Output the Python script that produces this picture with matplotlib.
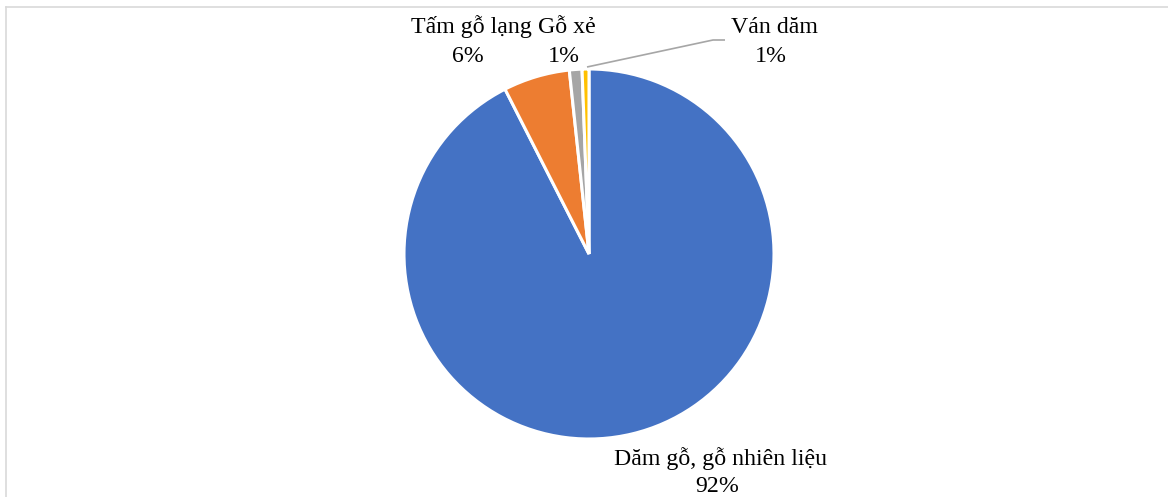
import matplotlib
matplotlib.use("Agg")
import matplotlib.pyplot as plt
from matplotlib.lines import Line2D

categories = ["Dăm gỗ, gỗ nhiên liệu", "Tấm gỗ lạng", "Gỗ xẻ", "Ván dăm"]
values = [92.5, 5.8, 1.1, 0.6]
colors = ["#4472C4", "#ED7D31", "#A5A5A5", "#FFC000"]

W, H = 1168, 497
fig = plt.figure(figsize=(W / 100, H / 100), dpi=100)
ax = fig.add_axes([0, 0, 1, 1])

cx, cy, r = 589, H - 254, 185
ax.pie(values, colors=colors, startangle=90, counterclock=False,
       center=(cx, cy), radius=r,
       wedgeprops=dict(edgecolor="white", linewidth=2.2), frame=True)
ax.set_xlim(0, W)
ax.set_ylim(0, H)
ax.set_aspect("equal")
ax.axis("off")

font = dict(family="Liberation Serif", fontsize=17.2, color="#000000",
            ha="center", va="baseline")

def lab(x, y1, name, val, gap=29):
    ax.text(x, H - y1, name, **font)
    ax.text(x - 3, H - y1 - gap, f"{round(val):d}%", **font)

lab(471, 33, categories[1], values[1])
lab(567, 33, categories[2], values[2])
lab(774, 33, categories[3], values[3])
lab(720, 465, categories[0], values[0], gap=27)

# leader line for Ván dăm
ax.plot([587, 713, 725], [H - 67, H - 40, H - 40], color="#A6A6A6", lw=1.2,
        solid_capstyle="butt")

# chart border (partially visible)
fig.add_artist(Line2D([6 / W, 1.0], [1 - 7 / H, 1 - 7 / H], transform=fig.transFigure,
                      color="#D9D9D9", lw=1.2))
fig.add_artist(Line2D([6 / W, 6 / W], [0, 1 - 7 / H], transform=fig.transFigure,
                      color="#D9D9D9", lw=1.2))

fig.savefig("out.png", dpi=100, facecolor="white")
